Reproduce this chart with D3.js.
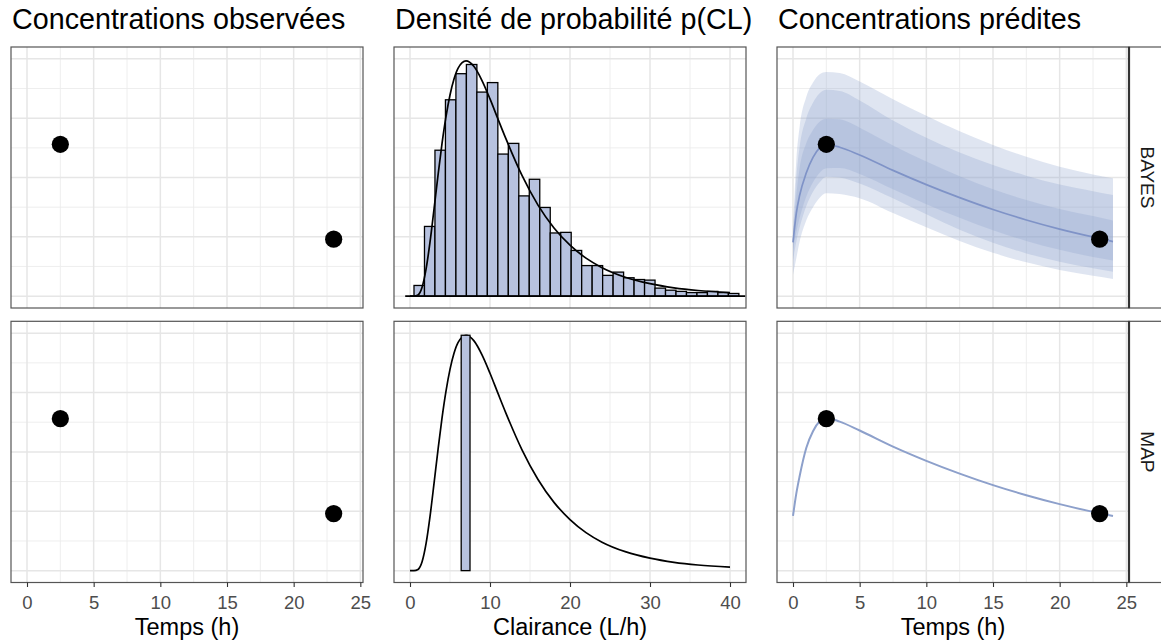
<!DOCTYPE html>
<html>
<head>
<meta charset="utf-8">
<script src="https://cdn.jsdelivr.net/npm/d3@7"></script>
<style>
  body { margin: 0; background: #fff; }
  text { font-family: "Liberation Sans", Arial, Helvetica, sans-serif; }
</style>
</head>
<body>
<script>
// observed concentrations (same two samples in every row)
const obsTime = [2.5, 23];
const obsConc = [12.8, 4.8];

// predicted concentrations, BAYES row : median + 3 prediction bands
const predTime   = [0, 0.25, 0.5, 1, 1.5, 2, 2.5, 3.5, 5, 7.5, 10, 12.5, 15, 17.5, 20, 22.5, 24];
const bayesMed   = [4.53, 7.0, 8.5, 10.4, 11.7, 12.5, 12.78, 12.55, 11.9, 10.6, 9.4, 8.3, 7.3, 6.42, 5.65, 4.98, 4.6];
const outerHi    = [5.6, 11.5, 14.3, 16.8, 18.0, 18.7, 18.9, 18.8, 18.1, 16.6, 15.2, 13.9, 12.75, 11.75, 10.9, 10.25, 9.93];
const midHi      = [5.2, 10.0, 12.6, 15.0, 16.3, 17.1, 17.39, 17.3, 16.5, 14.8, 13.35, 12.1, 11.05, 10.15, 9.4, 8.85, 8.53];
const innerHi    = [4.9, 8.5, 10.8, 12.9, 14.0, 14.7, 14.96, 14.9, 14.2, 12.7, 11.35, 10.1, 9.0, 8.1, 7.35, 6.75, 6.38];
const innerLo    = [3.9, 5.4, 6.6, 8.4, 9.6, 10.4, 10.77, 10.8, 10.3, 9.0, 7.75, 6.6, 5.55, 4.65, 3.9, 3.3, 3.0];
const midLo      = [3.0, 4.6, 5.8, 7.6, 8.8, 9.6, 10.07, 10.0, 9.5, 8.25, 6.9, 5.6, 4.5, 3.6, 2.9, 2.35, 2.05];
const outerLo    = [1.8, 3.2, 4.6, 6.4, 7.5, 8.3, 8.67, 8.6, 8.25, 7.0, 5.8, 4.65, 3.65, 2.85, 2.2, 1.72, 1.45];

// predicted concentrations, MAP row
const mapTime = [0, 0.25, 0.5, 1, 1.5, 2, 2.5, 3.5, 5, 7.5, 10, 12.5, 15, 17.5, 20, 22.5, 24];
const mapConc = [4.61, 6.5, 7.97, 10.35, 11.74, 12.58, 12.86, 12.55, 11.8, 10.45, 9.25, 8.17, 7.2, 6.35, 5.6, 4.95, 4.6];

// prior density p(CL)
const densCL  = [0, 0.5, 1, 1.5, 2, 2.5, 3, 3.5, 4, 4.5, 5, 5.5, 6, 7, 8, 9, 10, 11, 12, 14, 16, 18, 20, 22, 24, 27, 30, 33, 36, 40];
const densVal = [0, 0, 0.0004, 0.0029, 0.0090, 0.0182, 0.0293, 0.0407, 0.0514, 0.0605, 0.0678, 0.0732, 0.0768, 0.0793, 0.0774,
                 0.0727, 0.0665, 0.0597, 0.0530, 0.0407, 0.0307, 0.0230, 0.0172, 0.0128, 0.0096, 0.0063, 0.0042, 0.0028, 0.0019, 0.0012];

// posterior samples histogram (BAYES), 31 bins
const histStart = 0.5;
const binWidth = 1.31;
const histDensity = [0.0036, 0.0235, 0.0492, 0.0662, 0.0750, 0.0781, 0.0688, 0.0720, 0.0479, 0.0515, 0.0338, 0.0394, 0.0299,
                     0.0213, 0.0215, 0.0154, 0.0103, 0.0103, 0.0070, 0.0081, 0.0062, 0.0056, 0.0054, 0.0027, 0.0020, 0.0016,
                     0.0012, 0.0012, 0.0016, 0.0012, 0.0009];
const histExtent = [-0.6, 41.9];

// MAP estimate bar
const mapBar = [6.4, 7.5];
const mapBarDensity = 0.0793;

const titles = ['Concentrations observées', 'Densité de probabilité p(CL)', 'Concentrations prédites'];
const rowLabels = ['BAYES', 'MAP'];
const timeTicks = [0, 5, 10, 15, 20, 25];
const clTicks = [0, 10, 20, 30, 40];
const concMajor = [0, 5, 10, 15, 20];
const densMajor = [0, 0.02, 0.04, 0.06, 0.08];

const width = 1161, height = 643;
const blue = '#8da0cb';

const cols = [{x0: 11, x1: 363}, {x0: 394, x1: 746}, {x0: 777, x1: 1129}];
const rows = [{y0: 47, y1: 308}, {y0: 321.3, y1: 582.5}];

const svg = d3.select('body').append('svg')
  .attr('width', width)
  .attr('height', height);

const mids = a => a.slice(1).map((v, i) => (v + a[i]) / 2);

let clipId = 0;
function makePanel(c, r, xDomain, yDomain, xMajor, yMajor) {
  const col = cols[c], row = rows[r];
  const x = d3.scaleLinear().domain(xDomain).range([col.x0, col.x1]);
  const y = d3.scaleLinear().domain(yDomain).range([row.y1, row.y0]);
  const id = 'clip' + (clipId++);
  svg.append('clipPath').attr('id', id)
    .append('rect')
    .attr('x', col.x0).attr('y', row.y0)
    .attr('width', col.x1 - col.x0).attr('height', row.y1 - row.y0);
  const g = svg.append('g').attr('clip-path', 'url(#' + id + ')');

  g.append('rect')
    .attr('x', col.x0).attr('y', row.y0)
    .attr('width', col.x1 - col.x0).attr('height', row.y1 - row.y0)
    .attr('fill', '#fff');

  const xMinor = mids(xMajor), yMinor = mids(yMajor);
  g.selectAll('.vminor').data(xMinor).enter().append('line')
    .attr('x1', d => x(d)).attr('x2', d => x(d))
    .attr('y1', row.y0).attr('y2', row.y1)
    .attr('stroke', '#ececec').attr('stroke-width', 0.9);
  g.selectAll('.hminor').data(yMinor).enter().append('line')
    .attr('y1', d => y(d)).attr('y2', d => y(d))
    .attr('x1', col.x0).attr('x2', col.x1)
    .attr('stroke', '#ececec').attr('stroke-width', 0.9);
  g.selectAll('.vmajor').data(xMajor).enter().append('line')
    .attr('x1', d => x(d)).attr('x2', d => x(d))
    .attr('y1', row.y0).attr('y2', row.y1)
    .attr('stroke', '#e6e6e6').attr('stroke-width', 1.5);
  g.selectAll('.hmajor').data(yMajor).enter().append('line')
    .attr('y1', d => y(d)).attr('y2', d => y(d))
    .attr('x1', col.x0).attr('x2', col.x1)
    .attr('stroke', '#e6e6e6').attr('stroke-width', 1.5);

  return {g, x, y, col, row};
}

function border(p) {
  svg.append('rect')
    .attr('x', p.col.x0).attr('y', p.row.y0)
    .attr('width', p.col.x1 - p.col.x0).attr('height', p.row.y1 - p.row.y0)
    .attr('fill', 'none').attr('stroke', '#555').attr('stroke-width', 1.2);
}

function points(p) {
  p.g.selectAll('.obs').data(obsTime).enter().append('circle')
    .attr('cx', d => p.x(d))
    .attr('cy', (d, i) => p.y(obsConc[i]))
    .attr('r', 8.6)
    .attr('fill', '#000');
}

const tDomain = [-1.2, 25.2];
const cDomain = [-1, 21];
const clDomain = [-2, 42];
const dDomain = [-0.004, 0.084];

// column 1 : observed concentrations
rows.forEach((row, r) => {
  const p = makePanel(0, r, tDomain, cDomain, timeTicks, concMajor);
  points(p);
  border(p);
});

// column 2 : density of CL
const densLine = p => d3.line()
  .x((d, i) => p.x(densCL[i]))
  .y(d => p.y(d))
  .curve(d3.curveMonotoneX);

{
  const p = makePanel(1, 0, clDomain, dDomain, clTicks, densMajor);
  p.g.selectAll('.bar').data(histDensity).enter().append('rect')
    .attr('x', (d, i) => p.x(histStart + i * binWidth))
    .attr('width', p.x(binWidth) - p.x(0))
    .attr('y', d => p.y(d))
    .attr('height', d => p.y(0) - p.y(d))
    .attr('fill', '#b7c2df')
    .attr('stroke', '#000')
    .attr('stroke-width', 1.3);
  p.g.append('line')
    .attr('x1', p.x(histExtent[0])).attr('x2', p.x(histExtent[1]))
    .attr('y1', p.y(0)).attr('y2', p.y(0))
    .attr('stroke', '#000').attr('stroke-width', 1.6);
  p.g.append('path').datum(densVal)
    .attr('d', densLine(p))
    .attr('fill', 'none').attr('stroke', '#000').attr('stroke-width', 1.7);
  border(p);
}
{
  const p = makePanel(1, 1, clDomain, dDomain, clTicks, densMajor);
  p.g.append('path').datum(densVal)
    .attr('d', densLine(p))
    .attr('fill', 'none').attr('stroke', '#000').attr('stroke-width', 1.7);
  p.g.append('rect')
    .attr('x', p.x(mapBar[0]))
    .attr('width', p.x(mapBar[1]) - p.x(mapBar[0]))
    .attr('y', p.y(mapBarDensity))
    .attr('height', p.y(0) - p.y(mapBarDensity))
    .attr('fill', '#b7c2df')
    .attr('stroke', '#000')
    .attr('stroke-width', 1.3);
  border(p);
}

// column 3 : predicted concentrations
{
  const p = makePanel(2, 0, tDomain, cDomain, timeTicks, concMajor);
  const band = (lo, hi) => d3.area()
    .x((d, i) => p.x(predTime[i]))
    .y0((d, i) => p.y(lo[i]))
    .y1((d, i) => p.y(hi[i]))
    .curve(d3.curveMonotoneX);
  [[outerLo, outerHi], [midLo, midHi], [innerLo, innerHi]].forEach(b => {
    p.g.append('path').datum(predTime)
      .attr('d', band(b[0], b[1]))
      .attr('fill', blue)
      .attr('fill-opacity', 0.28);
  });
  p.g.append('path').datum(bayesMed)
    .attr('d', d3.line().x((d, i) => p.x(predTime[i])).y(d => p.y(d)).curve(d3.curveMonotoneX))
    .attr('fill', 'none').attr('stroke', '#7f93c7').attr('stroke-width', 1.7);
  points(p);
  border(p);
}
{
  const p = makePanel(2, 1, tDomain, cDomain, timeTicks, concMajor);
  p.g.append('path').datum(mapConc)
    .attr('d', d3.line().x((d, i) => p.x(mapTime[i])).y(d => p.y(d)).curve(d3.curveMonotoneX))
    .attr('fill', 'none').attr('stroke', blue).attr('stroke-width', 2);
  points(p);
  border(p);
}

// strips on the right
rows.forEach((row, r) => {
  svg.append('rect')
    .attr('x', cols[2].x1).attr('y', row.y0)
    .attr('width', 45).attr('height', row.y1 - row.y0)
    .attr('fill', '#fff').attr('stroke', '#555').attr('stroke-width', 1.2);
  svg.append('line')
    .attr('x1', cols[2].x1).attr('x2', cols[2].x1)
    .attr('y1', row.y0).attr('y2', row.y1)
    .attr('stroke', '#333').attr('stroke-width', 2.2);
  svg.append('text')
    .attr('transform', 'translate(1147,' + ((row.y0 + row.y1) / 2) + ') rotate(90)')
    .attr('text-anchor', 'middle')
    .attr('dominant-baseline', 'central')
    .attr('font-size', '19px')
    .attr('fill', '#1a1a1a')
    .text(rowLabels[r]);
});

// x axes
const axisDefs = [
  {c: 0, domain: tDomain, ticks: timeTicks, label: 'Temps (h)'},
  {c: 1, domain: clDomain, ticks: clTicks, label: 'Clairance (L/h)'},
  {c: 2, domain: tDomain, ticks: timeTicks, label: 'Temps (h)'}
];
axisDefs.forEach(a => {
  const col = cols[a.c];
  const x = d3.scaleLinear().domain(a.domain).range([col.x0, col.x1]);
  const ax = svg.append('g')
    .attr('transform', 'translate(0,' + rows[1].y1 + ')')
    .call(d3.axisBottom(x).tickValues(a.ticks).tickSize(4.5).tickPadding(8.5));
  ax.select('.domain').remove();
  ax.selectAll('.tick line').attr('stroke', '#333').attr('stroke-width', 1.1);
  ax.selectAll('.tick text')
    .attr('fill', '#4d4d4d')
    .style('font-size', '18.5px')
    .style('font-family', '"Liberation Sans", Arial, sans-serif');
  svg.append('text')
    .attr('x', (col.x0 + col.x1) / 2)
    .attr('y', 634.5)
    .attr('text-anchor', 'middle')
    .attr('font-size', '23.5px')
    .attr('fill', '#000')
    .text(a.label);
});

// column titles
titles.forEach((t, c) => {
  svg.append('text')
    .attr('x', cols[c].x0 + 1)
    .attr('y', 29)
    .attr('font-size', '28.7px')
    .attr('fill', '#000')
    .text(t);
});
</script>
</body>
</html>
